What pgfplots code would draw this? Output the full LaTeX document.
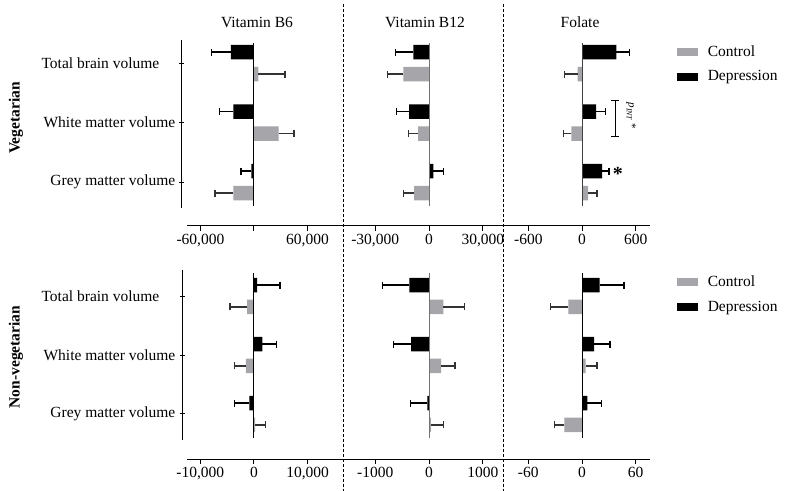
\documentclass[border=0pt]{standalone}
\usepackage{pgfplots}
\pgfplotsset{compat=1.18}
\usepackage{pgfplotstable}
\usepackage{fontspec}
\setmainfont{Liberation Serif}
\definecolor{ctrl}{RGB}{165,165,170}
\newcommand{\fs}{\fontsize{15.5bp}{18bp}\selectfont}

% columns: y position (0 grey, 1 white, 2 total; control -0.185, depression +0.185), x value, signed error
\pgfplotstableread{
y x e
1.815 4850 29850
0.815 27600 17200
-0.185 -23200 -20500
}\PoneC
\pgfplotstableread{
y x e
2.185 -25800 -21600
1.185 -23200 -15700
0.185 -3000 -11600
}\PoneD
\pgfplotstableread{
y x e
1.815 -14300 -8700
0.815 -6130 -5390
-0.185 -8360 -5950
}\PtwoC
\pgfplotstableread{
y x e
2.185 -8730 -9850
1.185 -11150 -6870
0.185 2415 5575
}\PtwoD
\pgfplotstableread{
y x e
1.815 -48 -146
0.815 -119 -86
-0.185 67 101
}\PthreeC
\pgfplotstableread{
y x e
2.185 384 149
1.185 157 108
0.185 224 78
}\PthreeD
\pgfplotstableread{
y x e
1.815 -1300 -3170
0.815 -1490 -2170
-0.185 190 1980
}\PfourC
\pgfplotstableread{
y x e
2.185 560 4280
1.185 1550 2670
0.185 -870 -2730
}\PfourD
\pgfplotstableread{
y x e
1.815 266 390
0.815 223 260
-0.185 37 229
}\PfiveC
\pgfplotstableread{
y x e
2.185 -365 -500
1.185 -334 -328
0.185 -31 -310
}\PfiveD
\pgfplotstableread{
y x e
1.815 -15.3 -20.1
0.815 4.1 12.7
-0.185 -19.8 -11.1
}\PsixC
\pgfplotstableread{
y x e
2.185 19.8 27.2
1.185 13.4 17.9
0.185 6.0 16
}\PsixD

\pgfplotsset{
  panel/.style={
    scale only axis,
    anchor=south west,
    axis x line=bottom,
    axis line style={-, line width=1bp, black},
    tick align=outside,
    major tick length=5bp,
    tick style={black, line width=1bp},
    scaled x ticks=false,
    ticklabel style={font=\fs},
    enlargelimits=false,
    clip=false,
  },
  otherpanel/.style={axis y line=none, ytick=\empty},
  firstpanel/.style={
    axis y line=left,
    axis y line shift=5bp,
    y axis line style={-, line width=1bp, shorten <=#1},
    ytick={0,1,2},
    yticklabels={Grey matter volume, White matter volume, {\hbox{Total brain volume\kern16bp}}},
    ytick style={black, line width=1bp},
    yticklabel style={inner xsep=4bp},
  },
  cbar/.style={xbar, bar width=0.244, bar shift=0, fill=ctrl, draw=none,
    forget plot,
    error bars/.cd, x dir=plus, x explicit, error mark=|,
    error bar style={black!80, line width=1.2bp},
    error mark options={black!80, line width=1.2bp, mark size=3.5bp}},
  dbar/.style={xbar, bar width=0.244, bar shift=0, fill=black, draw=none,
    forget plot,
    error bars/.cd, x dir=plus, x explicit, error mark=|,
    error bar style={black, line width=1.2bp},
    error mark options={black, line width=1.2bp, mark size=3.5bp}},
  legpanel/.style={
    legend style={at={(#1)}, anchor=west, draw=none, fill=none,
      font=\fs, inner sep=0pt, row sep=9bp,
      /tikz/every odd column/.append style={column sep=8bp}},
    legend cell align=left},
}

\begin{document}
\begin{tikzpicture}
\path[use as bounding box] (0,0) rectangle (789bp,491bp);

% ---------- top row ----------
\begin{axis}[panel, firstpanel=18bp, at={(187bp,265bp)}, width=156bp, height=186bp,
  xmin=-75100, xmax=99770, ymin=-0.739, ymax=2.387,
  xtick={-60000,0,60000}, xticklabels={{-60,000},{},{60,000}}]
  \addplot[cbar] table[x=x,y=y,x error=e]{\PoneC};
  \addplot[dbar] table[x=x,y=y,x error=e]{\PoneD};
  \draw[black, line width=1bp] (axis cs:0,-0.40) -- (axis cs:0,2.336);
\end{axis}
\begin{axis}[panel, otherpanel, at={(343bp,265bp)}, width=160bp, height=186bp,
  xmin=-47940, xmax=41250, ymin=-0.739, ymax=2.387,
  xtick={-30000,0,30000}, xticklabels={{-30,000},{0},{30,000}}]
  \addplot[cbar] table[x=x,y=y,x error=e]{\PtwoC};
  \addplot[dbar] table[x=x,y=y,x error=e]{\PtwoD};
  \draw[black!55, line width=1bp] (axis cs:0,-0.40) -- (axis cs:0,2.336);
\end{axis}
\begin{axis}[panel, otherpanel, at={(503bp,265bp)}, width=147bp, height=186bp,
  xmin=-883, xmax=760, ymin=-0.739, ymax=2.387,
  xtick={-600,0,600}, xticklabels={{-600},{0},{600}},
  legpanel={1.185,0.871}]
  \addplot[cbar] table[x=x,y=y,x error=e]{\PthreeC};
  \addplot[dbar] table[x=x,y=y,x error=e]{\PthreeD};
  \draw[black!75, line width=1bp] (axis cs:0,-0.40) -- (axis cs:0,2.336);
  \draw[black, line width=1bp, |-|] (axis cs:369,1.378) -- (axis cs:369,0.756);
  \node[rotate=-90, font=\fontsize{11bp}{13bp}\selectfont] at (axis cs:548,1.11) {\textit{p}\textsubscript{\textit{INT}} *};
  \node[font=\fontsize{20bp}{20bp}\selectfont\bfseries, anchor=center] at (axis cs:402,0.14) {*};
  \addlegendimage{legend image code/.code={\fill[ctrl] (0bp,-3.5bp) rectangle (20bp,3.5bp);}}
  \addlegendentry{Control}
  \addlegendimage{legend image code/.code={\fill[black] (0bp,-3.5bp) rectangle (20bp,3.5bp);}}
  \addlegendentry{Depression}
\end{axis}

% ---------- bottom row ----------
\begin{axis}[panel, firstpanel=19bp, at={(187bp,32bp)}, width=156bp, height=189bp,
  xmin=-12480, xmax=16580, ymin=-0.763, ymax=2.441,
  xtick={-10000,0,10000}, xticklabels={{-10,000},{0},{10,000}}]
  \addplot[cbar] table[x=x,y=y,x error=e]{\PfourC};
  \addplot[dbar] table[x=x,y=y,x error=e]{\PfourD};
  \draw[black, line width=1bp] (axis cs:0,-0.41) -- (axis cs:0,2.39);
\end{axis}
\begin{axis}[panel, otherpanel, at={(343bp,32bp)}, width=160bp, height=189bp,
  xmin=-1598, xmax=1375, ymin=-0.763, ymax=2.441,
  xtick={-1000,0,1000}, xticklabels={{-1000},{0},{1000}}]
  \addplot[cbar] table[x=x,y=y,x error=e]{\PfiveC};
  \addplot[dbar] table[x=x,y=y,x error=e]{\PfiveD};
  \draw[black!55, line width=1bp] (axis cs:0,-0.41) -- (axis cs:0,2.39);
\end{axis}
\begin{axis}[panel, otherpanel, at={(503bp,32bp)}, width=147bp, height=189bp,
  xmin=-88.3, xmax=76, ymin=-0.763, ymax=2.441,
  xtick={-60,0,60}, xticklabels={{-60},{0},{60}},
  legpanel={1.185,0.872}]
  \addplot[cbar] table[x=x,y=y,x error=e]{\PsixC};
  \addplot[dbar] table[x=x,y=y,x error=e]{\PsixD};
  \draw[black, line width=1bp] (axis cs:0,-0.41) -- (axis cs:0,2.39);
  \addlegendimage{legend image code/.code={\fill[ctrl] (0bp,-3.5bp) rectangle (20bp,3.5bp);}}
  \addlegendentry{Control}
  \addlegendimage{legend image code/.code={\fill[black] (0bp,-3.5bp) rectangle (20bp,3.5bp);}}
  \addlegendentry{Depression}
\end{axis}

% ---------- separators, titles, row labels ----------
\draw[black, line width=1bp, dash pattern=on 3bp off 2bp] (343bp,487bp) -- (343bp,0bp);
\draw[black, line width=1bp, dash pattern=on 3bp off 2bp] (503bp,487bp) -- (503bp,0bp);
\node[font=\fs, anchor=base] at (257bp,463bp) {Vitamin B6};
\node[font=\fs, anchor=base] at (425bp,463bp) {Vitamin B12};
\node[font=\fs, anchor=base] at (580bp,463bp) {Folate};
\node[font=\fs\bfseries, rotate=90] at (16bp,373bp) {Vegetarian};
\node[font=\fs\bfseries, rotate=90] at (16bp,134bp) {Non-vegetarian};
\end{tikzpicture}
\end{document}
